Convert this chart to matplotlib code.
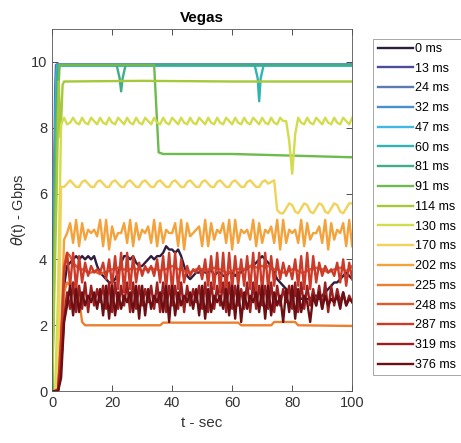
import matplotlib
matplotlib.use("Agg")
import matplotlib.pyplot as plt

plt.rcParams["font.family"] = ["Liberation Sans", "DejaVu Sans"]

# delay labels for each run
delays = [0, 13, 24, 32, 47, 60, 81, 91, 114, 130, 170, 202, 225, 248, 287, 319, 376]
colors = ["#2d1e3e", "#4b4c9c", "#5b7bb0", "#4790cf", "#3fb8e6", "#2fb3b3",
          "#3fae86", "#6dbb4f", "#a6c83a", "#d2dc4c", "#f1d25a", "#f4a23c",
          "#ec7f30", "#e0592c", "#cc3a2a", "#9d1e1e", "#6b0f14"]

# one-second samples, 0..100 s
t_sec = list(range(101))

thr_0 = [0, 0, 0.05, 1.5, 3.2, 3.8, 3.9, 4.0, 4.1, 4.0,
         4.1, 4.0, 4.1, 4.0, 4.1, 3.8, 3.6, 3.5, 3.4, 3.3,
         3.3, 3.4, 3.6, 3.9, 4.1, 4.1, 4.0, 4.1, 3.9, 3.8,
         3.8, 3.9, 4.0, 4.1, 4.0, 4.1, 4.1, 4.2, 4.4, 4.3,
         4.3, 4.2, 4.3, 4.1, 3.8, 3.5, 3.4, 3.5, 3.6, 3.6,
         3.7, 3.6, 3.6, 3.7, 3.5, 3.6, 3.6, 3.5, 3.5, 3.6,
         3.6, 3.5, 3.6, 3.6, 3.7, 3.7, 3.8, 3.8, 3.9, 4.0,
         4.1, 4.0, 3.9, 3.8, 3.6, 3.4, 3.3, 3.2, 3.1, 3.0,
         3.0, 2.9, 2.9, 2.8, 2.8, 2.8, 2.8, 2.9, 2.9, 2.8,
         2.9, 3.0, 3.1, 3.2, 3.3, 3.3, 3.4, 3.5, 3.6, 3.5,
         3.4]

# runs that saturate the link
t_13 = [0, 0.5, 1.0, 1.3, 100]
thr_13 = [0, 4, 9.0, 9.9, 9.9]
t_24 = [0, 0.6, 1.1, 1.5, 100]
thr_24 = [0, 5, 8.2, 9.92, 9.92]
t_32 = [0, 0.7, 1.2, 1.6, 100]
thr_32 = [0, 5, 9.2, 9.9, 9.9]
t_47 = [0, 0.8, 1.4, 1.8, 100]
thr_47 = [0, 6, 9.5, 9.88, 9.88]
t_60 = [0, 1.0, 1.6, 2.0, 67.5, 68.5, 69, 69.5, 70.5, 100]
thr_60 = [0, 7, 9.6, 9.9, 9.9, 9.5, 8.8, 9.5, 9.9, 9.9]
t_81 = [0, 1.2, 2.0, 2.5, 21.5, 22.5, 23, 23.5, 24.5, 100]
thr_81 = [0, 7, 9.7, 9.9, 9.9, 9.5, 9.1, 9.5, 9.9, 9.9]
t_91 = [0, 1.5, 2.5, 3.0, 34, 35.5, 37, 60, 80, 100]
thr_91 = [0, 8, 9.9, 9.9, 9.9, 7.25, 7.2, 7.2, 7.15, 7.1]
t_114 = [0, 1.5, 2.2, 2.8, 3.5, 4.0, 30, 60, 100]
thr_114 = [0, 6, 9.4, 7.7, 9.3, 9.4, 9.42, 9.4, 9.4]

thr_130 = [0, 0, 3.0, 8.1, 8.3, 8.1, 8.15, 8.3, 8.15, 8.1,
           8.3, 8.15, 8.1, 8.3, 8.2, 8.1, 8.3, 8.15, 8.1, 8.3,
           8.15, 8.1, 8.3, 8.2, 8.1, 8.3, 8.15, 8.1, 8.3, 8.15,
           8.1, 8.3, 8.2, 8.1, 8.3, 8.15, 8.1, 8.3, 8.15, 8.1,
           8.3, 8.2, 8.1, 8.3, 8.15, 8.1, 8.3, 8.15, 8.1, 8.3,
           8.2, 8.1, 8.3, 8.15, 8.1, 8.3, 8.15, 8.1, 8.3, 8.2,
           8.1, 8.3, 8.15, 8.1, 8.3, 8.15, 8.1, 8.3, 8.2, 8.1,
           8.3, 8.15, 8.1, 8.3, 8.15, 8.1, 8.3, 8.2, 8.2, 7.6,
           6.6, 7.8, 8.3, 8.15, 8.1, 8.3, 8.15, 8.1, 8.3, 8.2,
           8.1, 8.3, 8.15, 8.1, 8.3, 8.15, 8.1, 8.3, 8.2, 8.1,
           8.3]

thr_170 = [0, 0, 0.5, 6.2, 6.2, 6.3, 6.4, 6.3, 6.2, 6.2,
           6.35, 6.4, 6.3, 6.2, 6.2, 6.35, 6.4, 6.3, 6.2, 6.2,
           6.35, 6.4, 6.3, 6.2, 6.2, 6.35, 6.4, 6.3, 6.2, 6.2,
           6.35, 6.4, 6.3, 6.2, 6.2, 6.35, 6.4, 6.3, 6.2, 6.2,
           6.35, 6.4, 6.3, 6.2, 6.2, 6.35, 6.4, 6.3, 6.2, 6.2,
           6.35, 6.4, 6.3, 6.2, 6.2, 6.35, 6.4, 6.3, 6.2, 6.2,
           6.35, 6.4, 6.3, 6.2, 6.2, 6.35, 6.4, 6.3, 6.2, 6.2,
           6.35, 6.4, 6.3, 6.35, 6.4, 5.5, 5.4, 5.4, 5.55, 5.7,
           5.65, 5.45, 5.4, 5.55, 5.7, 5.65, 5.45, 5.4, 5.55, 5.7,
           5.65, 5.45, 5.4, 5.55, 5.7, 5.65, 5.45, 5.4, 5.55, 5.7,
           5.7]

thr_202 = [0, 0, 0.1, 1.8, 4.6, 4.8, 5.1, 4.5, 5.2, 4.4,
           5.1, 4.6, 4.9, 4.8, 4.9, 4.7, 5.2, 4.4, 5.2, 4.3,
           5.0, 4.6, 4.8, 4.8, 5.1, 4.5, 5.2, 4.4, 5.1, 4.6,
           4.9, 4.8, 5.0, 4.5, 5.2, 4.4, 5.1, 4.5, 4.9, 4.8,
           4.8, 5.1, 4.4, 5.2, 4.3, 5.1, 4.7, 4.8, 4.9, 5.0,
           4.4, 5.2, 4.4, 5.1, 4.6, 4.9, 4.8, 5.1, 4.5, 5.2,
           4.3, 5.2, 4.5, 4.9, 4.8, 4.9, 4.6, 5.2, 4.4, 5.1,
           4.5, 4.9, 4.8, 5.0, 4.5, 5.2, 4.3, 5.2, 4.5, 4.9,
           4.8, 4.9, 4.5, 5.2, 4.4, 5.1, 4.6, 4.8, 4.8, 5.0,
           4.5, 5.2, 4.3, 5.1, 4.6, 4.9, 4.8, 5.1, 4.4, 5.2,
           4.4]

t_225 = [0, 2, 3, 4, 5, 6, 7, 8, 9, 10, 11, 36, 37, 62, 63, 73, 74, 81, 82, 100]
thr_225 = [0, 0.05, 1.5, 3.0, 3.3, 3.2, 3.3, 3.2, 2.8, 2.1, 2.0, 2.0,
           2.08, 2.08, 2.0, 2.0, 2.1, 2.1, 2.0, 1.98]

thr_248 = [0, 0, 0.05, 1.2, 3.8, 4.2, 4.1, 3.9, 3.8, 3.7,
           3.7, 3.65, 3.6, 3.6, 3.65, 3.6, 3.55, 3.6, 3.6, 3.65,
           3.7, 3.7, 3.75, 3.7, 3.7, 3.65, 3.7, 3.75, 3.7, 3.7,
           3.65, 3.7, 3.7, 3.75, 3.7, 3.7, 3.65, 3.7, 3.7, 3.75,
           3.8, 3.75, 3.7, 3.7, 3.65, 3.6, 3.6, 3.65, 3.7, 3.7,
           3.7, 3.65, 3.7, 3.7, 3.75, 3.7, 3.7, 3.65, 3.6, 3.6,
           3.65, 3.7, 3.7, 3.75, 3.7, 3.75, 3.8, 3.8, 3.75, 3.8,
           3.8, 3.75, 3.8, 3.75, 3.7, 3.7, 3.65, 3.6, 3.6, 3.65,
           3.7, 3.7, 3.65, 3.6, 3.6, 3.65, 3.7, 3.7, 3.75, 3.7,
           3.7, 3.65, 3.6, 3.65, 3.7, 3.7, 3.75, 3.7, 3.65, 3.7,
           3.8]

thr_287 = [0, 0, 0.05, 1.6, 3.6, 4.2, 3.2, 4.2, 3.1, 4.1,
           3.3, 3.9, 3.5, 3.8, 3.6, 3.7, 3.6, 3.9, 3.4, 4.0,
           3.2, 4.1, 3.1, 4.2, 3.0, 4.2, 3.1, 4.1, 3.3, 3.9,
           3.5, 3.8, 3.6, 3.8, 3.5, 4.0, 3.3, 4.1, 3.1, 4.2,
           3.0, 4.2, 3.1, 4.0, 3.3, 3.8, 3.5, 3.7, 3.6, 3.8,
           3.4, 4.0, 3.2, 4.1, 3.1, 4.2, 3.0, 4.2, 3.0, 4.2,
           3.1, 4.1, 3.2, 4.0, 3.2, 4.1, 3.1, 4.2, 3.0, 4.2,
           3.0, 4.2, 3.1, 4.1, 3.2, 4.0, 3.4, 3.9, 3.5, 3.8,
           3.4, 4.0, 3.2, 4.1, 3.1, 4.2, 3.1, 4.1, 3.3, 3.9,
           3.5, 3.8, 3.6, 3.7, 3.5, 3.9, 3.3, 4.0, 3.2, 3.9,
           3.4]

thr_319 = [0, 0, 0.02, 0.8, 2.2, 3.0, 2.5, 3.3, 2.4, 3.2,
           2.5, 3.3, 2.4, 3.2, 2.6, 3.1, 2.7, 3.2, 2.5, 3.3,
           2.4, 3.3, 2.5, 3.2, 2.6, 3.3, 2.4, 3.3, 2.5, 3.2,
           2.6, 3.1, 2.7, 3.2, 2.5, 3.3, 2.4, 3.3, 2.4, 3.2,
           2.6, 3.2, 2.5, 3.3, 2.4, 3.2, 2.6, 3.1, 2.7, 3.2,
           2.5, 3.3, 2.4, 3.3, 2.5, 3.2, 2.6, 3.3, 2.4, 3.3,
           2.5, 3.2, 2.6, 3.1, 2.5, 3.3, 2.4, 3.3, 2.5, 3.2,
           2.6, 3.2, 2.5, 3.3, 2.4, 3.2, 2.6, 3.1, 2.7, 3.2,
           2.5, 3.3, 2.4, 3.3, 2.5, 3.2, 2.6, 3.1, 2.6, 3.2,
           2.5, 3.3, 2.4, 3.2, 2.6, 3.1, 2.7, 3.0, 2.6, 2.9,
           2.7]

thr_376 = [0, 0, 0, 0.4, 2.1, 2.6, 3.2, 2.3, 3.1, 2.4,
           3.0, 2.6, 2.9, 2.7, 3.0, 2.5, 3.1, 2.3, 3.2, 2.2,
           3.2, 2.3, 3.0, 2.5, 2.9, 2.7, 3.0, 2.4, 3.2, 2.2,
           3.2, 2.3, 3.1, 2.5, 2.9, 2.7, 3.0, 2.4, 3.2, 2.1,
           3.2, 2.3, 3.0, 2.6, 2.9, 2.7, 3.0, 2.5, 3.1, 2.3,
           3.2, 2.2, 3.1, 2.4, 2.9, 2.7, 2.9, 2.5, 3.1, 2.3,
           3.2, 2.2, 3.2, 2.1, 3.0, 2.5, 2.9, 2.7, 3.0, 2.4,
           3.2, 2.2, 3.2, 2.3, 3.0, 2.6, 2.9, 2.1, 3.1, 2.4,
           3.2, 2.2, 3.1, 2.4, 2.9, 2.7, 2.1, 2.9, 2.6, 3.0,
           2.5, 2.9, 2.6, 2.8, 2.7, 2.9, 2.5, 3.0, 2.6, 2.8,
           2.7]

series = [
    (t_sec, thr_0), (t_13, thr_13), (t_24, thr_24), (t_32, thr_32),
    (t_47, thr_47), (t_60, thr_60), (t_81, thr_81), (t_91, thr_91),
    (t_114, thr_114), (t_sec, thr_130), (t_sec, thr_170), (t_sec, thr_202),
    (t_225, thr_225), (t_sec, thr_248), (t_sec, thr_287), (t_sec, thr_319),
    (t_sec, thr_376),
]


def main() -> None:
    fig = plt.figure(figsize=(4.61, 4.43), dpi=100)
    ax = fig.add_axes([0.113, 0.117, 0.651, 0.818])

    for (t, y), d, c in zip(series, delays, colors):
        ax.plot(t, y, color=c, lw=1.7, label=f"{d} ms")

    ax.set_xlim(0, 100)
    ax.set_ylim(0, 11)
    ax.set_xticks(range(0, 101, 20))
    ax.set_yticks(range(0, 11, 2))
    ax.tick_params(direction="in", top=True, right=True, length=4,
                   labelsize=10.5, colors="#333333", width=0.6)
    for s in ax.spines.values():
        s.set_color("#555555")
        s.set_linewidth(0.6)
    ax.set_title("Vegas", fontsize=11, fontweight="bold", pad=5)
    ax.set_xlabel("t - sec", fontsize=11, color="#333333")
    ax.set_ylabel(r"$\theta$(t) - Gbps", fontsize=10.5, color="#333333",
                  labelpad=2)

    leg = ax.legend(loc="upper left", bbox_to_anchor=(1.07, 0.973),
                    borderaxespad=0, fontsize=9, handlelength=2.8,
                    labelspacing=0.62, fancybox=False, framealpha=1,
                    edgecolor="#999999", handletextpad=0.2,
                    borderpad=0.35)
    leg.get_frame().set_linewidth(0.6)

    fig.savefig("out.png", dpi=100)
    plt.close(fig)


if __name__ == "__main__":
    main()
